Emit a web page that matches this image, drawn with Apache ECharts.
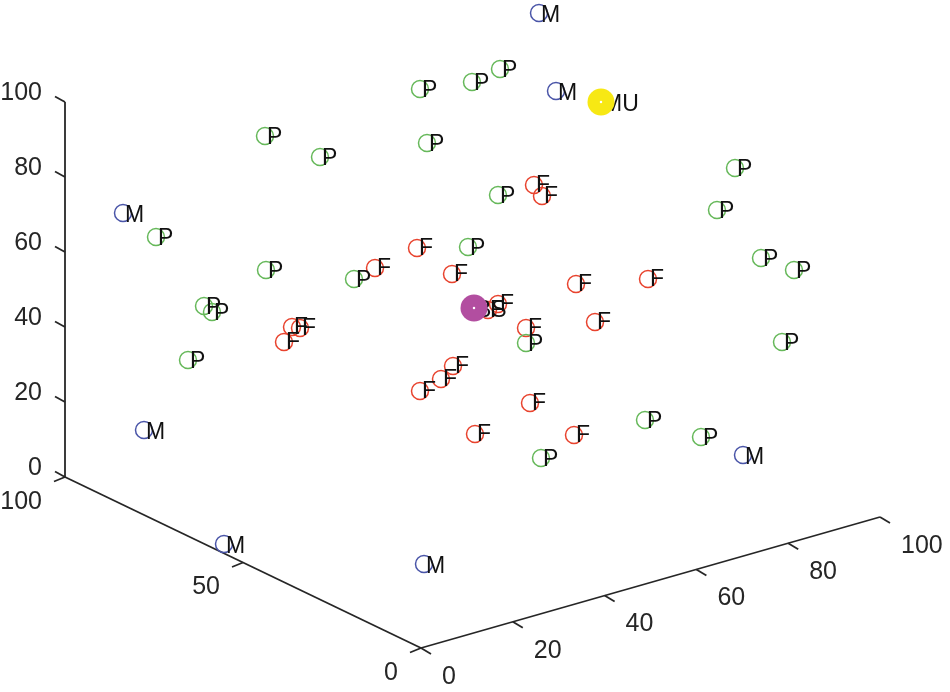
<!DOCTYPE html>
<html><head><meta charset="utf-8">
<style>html,body{margin:0;padding:0;background:#fff}#c{width:950px;height:692px}</style>
<script src="https://cdn.jsdelivr.net/npm/echarts@6/dist/echarts.min.js"></script>
</head><body><div id="c"></div>
<script>
// Marker positions, in view-plane units
const pointsM = [[539,13],[556,91],[123,213],[144,430],[743,455],[224,544],[424,564]];
const pointsP = [[420,89],[472,82],[500,69],[265,136],[320,157],[427,143],[735,168],[498,195],[717,210],[156,237],[468,247],[266,270],[354,279],[761,258],[794,270],[204,306],[212,312],[188,360],[782,342],[526,343],[645,420],[701,437],[541,458]];
const pointsF = [[534,185],[542,196],[417,248],[375,268],[452,274],[576,284],[648,279],[595,322],[526,328],[292,327],[300,328],[284,342],[453,366],[441,379],[420,391],[530,403],[475,434],[574,435],[498,304],[488,310]];
const pointMU = [[601,102]];
const pointBS = [[474,308]];
// Axis corners in the view plane
const cornerOrigin = [421,648], cornerX100 = [880,517], cornerY100 = [65,477], cornerZ100 = [65,102];
const xTicks = [0,20,40,60,80,100];
const yTicks = [0,50,100];
const zTicks = [0,20,40,60,80,100];

const lerp = (a,b,t)=>[a[0]+(b[0]-a[0])*t, a[1]+(b[1]-a[1])*t];
const xAt = v=>lerp(cornerOrigin,cornerX100,v/100);
const yAt = v=>lerp(cornerOrigin,cornerY100,v/100);
const zAt = v=>lerp(cornerY100,cornerZ100,v/100);
const FONT = 'Liberation Sans';
const INK = '#262626';

function axisLine(data,w){return {type:'line',data,symbol:'none',silent:true,z:1,
  lineStyle:{color:INK,width:w||1.8},animation:false};}
function tickSeg(p,dx,dy){return axisLine([p,[p[0]+dx,p[1]+dy]],1.8);}
function tickLabels(list,at,dx,dy,align){
  return {type:'scatter',symbolSize:0,z:1,silent:true,animation:false,
    itemStyle:{opacity:1},
    data:list.map(v=>{const p=at(v);return {name:String(v),value:[p[0]+dx,p[1]+dy]};}),
    label:{show:true,position:'inside',align,verticalAlign:'middle',formatter:'{b}',
      fontFamily:FONT,fontSize:25,color:INK}};
}
function marks(pts,color){
  return {type:'scatter',data:pts,symbol:'circle',symbolSize:17,z:3,silent:true,animation:false,
    itemStyle:{color:'rgba(255,255,255,0)',opacity:1,borderColor:color,borderWidth:1.5}};
}
function names(pts,text,dy){
  return {type:'scatter',data:pts.map(p=>({name:text,value:p})),symbol:'circle',symbolSize:0,z:4,silent:true,animation:false,
    itemStyle:{opacity:1},
    label:{show:true,position:'inside',align:'left',verticalAlign:'middle',offset:[2,dy],formatter:'{b}',
      fontFamily:FONT,fontSize:23,color:'#111'}};
}
function disc(pts,color){
  return [{type:'scatter',data:pts,symbolSize:27,z:5,silent:true,animation:false,itemStyle:{color,opacity:1}},
          {type:'scatter',data:pts,symbolSize:2.5,z:6,silent:true,animation:false,itemStyle:{color:'#fff',opacity:1}}];
}
const series = [
  axisLine([cornerY100,cornerZ100]),
  axisLine([cornerY100,cornerOrigin]),
  axisLine([cornerOrigin,cornerX100]),
  ...zTicks.map(v=>tickSeg(zAt(v),-10,-5.5)),
  ...yTicks.map(v=>tickSeg(yAt(v),-11,4.5)),
  ...xTicks.map(v=>tickSeg(xAt(v),10,6)),
  tickLabels(zTicks,zAt,-23,-9,'right'),
  tickLabels(yTicks,yAt,-23,25,'right'),
  tickLabels(xTicks,xAt,21,29,'left'),
  marks(pointsF,'#e8432e'), marks(pointsP,'#66b85a'), marks(pointsM,'#4a55a8'),
  names(pointsF,'F',1), names(pointsP,'P',2), names(pointsM,'M',3),
  names(pointMU,'MU',3), names(pointBS,'BS',3),
  ...disc(pointMU,'#f7e814'), ...disc(pointBS,'#b24ea0')
];
const chart = echarts.init(document.getElementById('c'),null,{renderer:'canvas'});
chart.setOption({
  animation:false,backgroundColor:'#fff',
  grid:{left:0,right:0,top:0,bottom:0},
  xAxis:{type:'value',min:0,max:950,show:false},
  yAxis:{type:'value',min:0,max:692,inverse:true,show:false},
  tooltip:{show:false},
  series
});
</script></body></html>
